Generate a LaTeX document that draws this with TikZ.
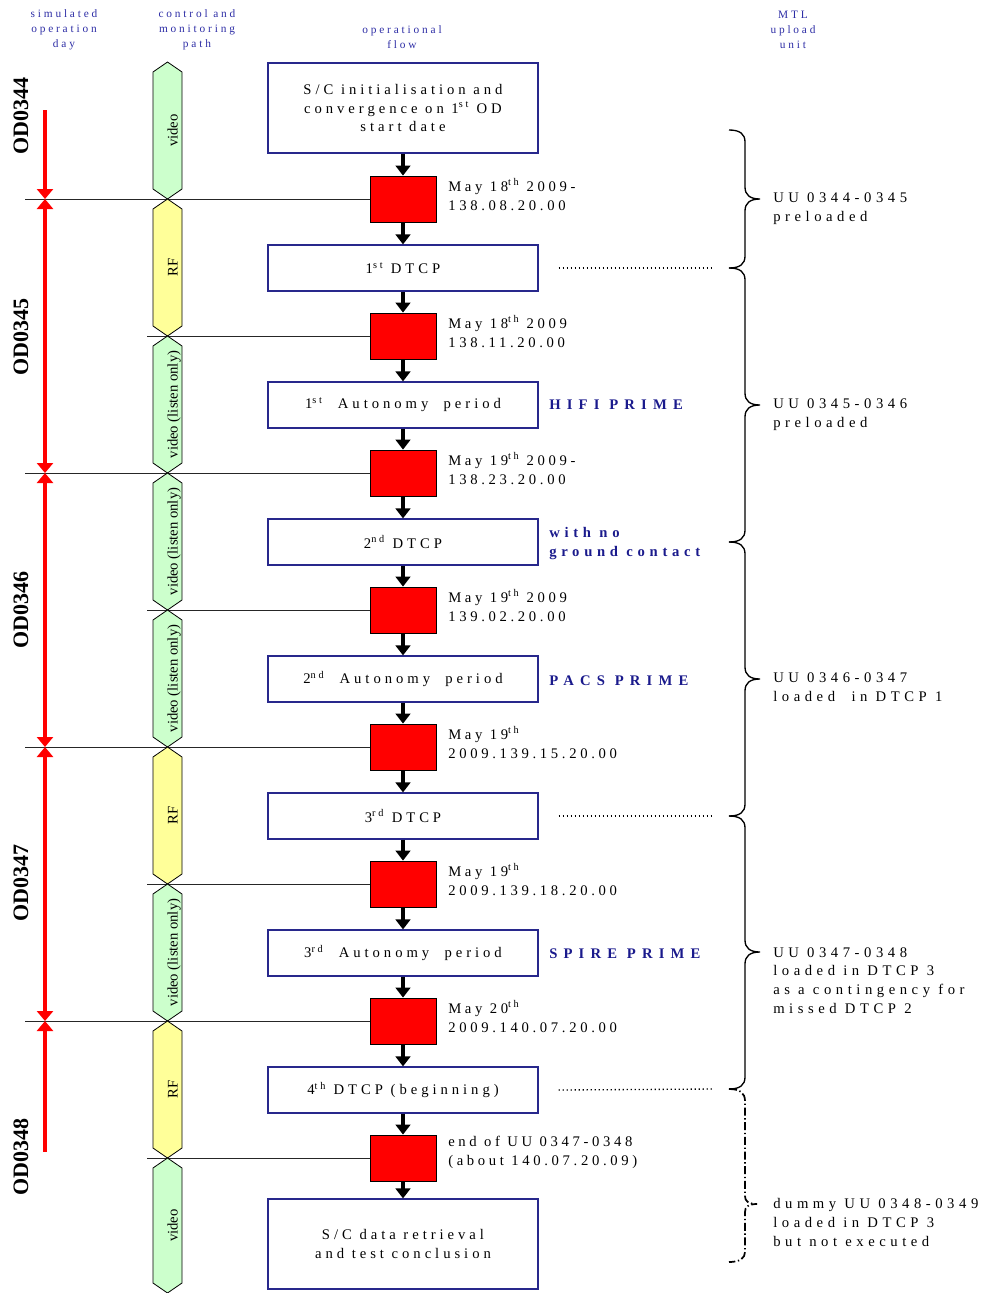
\documentclass[tikz,border=0pt]{standalone}
\usepackage{fontspec}
\setmainfont{Liberation Serif}
\newfontfamily\lsfont[LetterSpace=25]{Liberation Serif}
\newfontfamily\lsboxfont[LetterSpace=27]{Liberation Serif}
\newfontfamily\lsuufont[LetterSpace=31]{Liberation Serif}
\newfontfamily\lsbold[LetterSpace=32]{Liberation Serif}
\newfontfamily\lsboldcaps[LetterSpace=42]{Liberation Serif}
\usetikzlibrary{arrows.meta}
\definecolor{hdrblue}{RGB}{45,45,165}
\definecolor{lblblue}{RGB}{26,26,140}
\definecolor{boxblue}{RGB}{40,40,140}
\definecolor{hexgreen}{RGB}{204,255,204}
\definecolor{hexyellow}{RGB}{255,255,153}
\begin{document}
\begin{tikzpicture}[x=0.75pt,y=-0.75pt,
  hdr/.style={font=\lsfont\fontsize{8.5}{11.25}\selectfont, text=hdrblue, align=center, inner sep=0pt},
  flowbox/.style={draw=boxblue, line width=0.9pt, minimum width=202.5pt, minimum height=34.5pt, align=center, inner sep=0pt, font=\lsboxfont\fontsize{11}{14}\selectfont},
  tallbox/.style={flowbox, minimum height=67.5pt},
  redsq/.style={draw=black, fill=red, line width=0.6pt, minimum width=49.5pt, minimum height=34.5pt, inner sep=0pt},
  flowarrow/.style={-{Triangle[width=11pt,length=7.5pt]}, line width=2.8pt},
  dayarrow/.style={red, line width=2.6pt},
  redtip/.tip={Triangle[width=12pt,length=7.5pt]},
  datelbl/.style={anchor=west, align=left, inner sep=0pt, font=\lsfont\fontsize{11}{14.25}\selectfont},
  modelbl/.style={anchor=west, align=left, inner sep=0pt, text=lblblue, font=\lsbold\bfseries\fontsize{11}{14.25}\selectfont},
  modecaps/.style={modelbl, font=\lsboldcaps\bfseries\fontsize{11}{14.25}\selectfont},
  uulbl/.style={anchor=west, align=left, inner sep=0pt, font=\lsuufont\fontsize{11}{14}\selectfont},
  odlbl/.style={rotate=90, anchor=base, inner sep=0pt, font=\bfseries\fontsize{16.5}{18}\selectfont},
  hexlbl/.style={rotate=90, anchor=base, inner sep=0pt, font=\fontsize{11}{13}\selectfont},
  sepline/.style={line width=0.6pt, black!85},
  bracepath/.style={line width=1pt},
  dotline/.style={dotted, line width=1pt},
]
\useasboundingbox (0,0) rectangle (995,1293);

% headers
\node[hdr] (h1) at (64,30) {simulated\\operation\\day};
\node[hdr] (h2) at (197,30) {control and\\monitoring\\path};
\node[hdr] (h3) at (402,37.5) {operational\\flow};
\node[hdr] (h4) at (793,30) {MTL\\upload\\unit};

% day labels
\node[odlbl] (od1) at (28,116) {OD0344};
\node[odlbl] (od2) at (28,337) {OD0345};
\node[odlbl] (od3) at (28,610) {OD0346};
\node[odlbl] (od4) at (28,883) {OD0347};
\node[odlbl] (od5) at (28,1157) {OD0348};

% flow nodes
\node[tallbox] (b1) at (403,108) {S/C initialisation and\\convergence on 1\textsuperscript{st} OD\\start date};
\node[redsq] (s1) at (403,199) {};
\node[flowbox] (b2) at (403,268) {1\textsuperscript{st} DTCP};
\node[redsq] (s2) at (403,336) {};
\node[flowbox] (b3) at (403,405) {1\textsuperscript{st}\ \ Autonomy\ \ period};
\node[redsq] (s3) at (403,473) {};
\node[flowbox] (b4) at (403,542) {2\textsuperscript{nd} DTCP};
\node[redsq] (s4) at (403,610) {};
\node[flowbox] (b5) at (403,679) {2\textsuperscript{nd}\ \ Autonomy\ \ period};
\node[redsq] (s5) at (403,747) {};
\node[flowbox] (b6) at (403,816) {3\textsuperscript{rd} DTCP};
\node[redsq] (s6) at (403,884) {};
\node[flowbox] (b7) at (403,953) {3\textsuperscript{rd}\ \ Autonomy\ \ period};
\node[redsq] (s7) at (403,1021) {};
\node[flowbox] (b8) at (403,1090) {4\textsuperscript{th} DTCP (beginning)};
\node[redsq] (s8) at (403,1158) {};
\node[tallbox] (b9) at (403,1244) {S/C data retrieval\\and test conclusion};

\foreach \a/\b in {b1/s1,s1/b2,b2/s2,s2/b3,b3/s3,s3/b4,b4/s4,s4/b5,b5/s5,s5/b6,b6/s6,s6/b7,b7/s7,s7/b8,b8/s8,s8/b9}
  \draw[flowarrow] (\a.south) -- (\b.north);

% horizontal separator lines
\coordinate (l1) at (25,199);
\coordinate (l2) at (147,336);
\coordinate (l3) at (25,473);
\coordinate (l4) at (147,610);
\coordinate (l5) at (25,747);
\coordinate (l6) at (147,884);
\coordinate (l7) at (25,1021);
\coordinate (l8) at (147,1158);
\foreach \i in {1,...,8}
  \draw[sepline] (l\i) -- (s\i.west);

% hexagons
\foreach \yt/\yb/\col/\txt [count=\i] in {62/199/hexgreen/video, 199/336/hexyellow/RF, 336/473/hexgreen/video (listen only), 473/610/hexgreen/video (listen only), 610/747/hexgreen/video (listen only), 747/884/hexyellow/RF, 884/1021/hexgreen/video (listen only), 1021/1158/hexyellow/RF, 1158/1293/hexgreen/video}
{
  \draw[fill=\col, line width=0.6pt] (153,\yt+10) -- (167.5,\yt) -- (182,\yt+10) -- (182,\yb-10) -- (167.5,\yb) -- (153,\yb-10) -- cycle;
  \node[hexlbl] (hx\i) at (177.5,{(\yt+\yb)/2}) {\txt};
}

% red day arrows
\coordinate (d0) at (45,110);
\coordinate (d1) at (45,199);
\coordinate (d2) at (45,473);
\coordinate (d3) at (45,747);
\coordinate (d4) at (45,1021);
\coordinate (d5) at (45,1152);
\draw[dayarrow, -redtip] (d0) -- (d1);
\draw[dayarrow, redtip-redtip] (d1) -- (d2);
\draw[dayarrow, redtip-redtip] (d2) -- (d3);
\draw[dayarrow, redtip-redtip] (d3) -- (d4);
\draw[dayarrow, redtip-] (d4) -- (d5);

% date labels
\node[datelbl] (t1) at (448,194.5) {May\ 18\textsuperscript{th} 2009-\\138.08.20.00};
\node[datelbl] (t2) at (448,331.5) {May\ 18\textsuperscript{th} 2009\\138.11.20.00};
\node[datelbl] (t3) at (448,468.5) {May\ 19\textsuperscript{th} 2009-\\138.23.20.00};
\node[datelbl] (t4) at (448,605.5) {May\ 19\textsuperscript{th} 2009\\139.02.20.00};
\node[datelbl] (t5) at (448,742.5) {May\ 19\textsuperscript{th}\\2009.139.15.20.00};
\node[datelbl] (t6) at (448,879.5) {May\ 19\textsuperscript{th}\\2009.139.18.20.00};
\node[datelbl] (t7) at (448,1016.5) {May\ 20\textsuperscript{th}\\2009.140.07.20.00};
\node[datelbl] (t8) at (448,1152.5) {end of UU 0347-0348\\(about 140.07.20.09)};

% mode labels
\node[modecaps] (m1) at (549,405) {HIFI PRIME};
\node[modelbl] (m2) at (549,543.5) {with no\\ground contact};
\node[modecaps] (m3) at (549,681) {PACS PRIME};
\node[modecaps] (m4) at (549,954) {SPIRE PRIME};

% dotted lines to braces
\coordinate (e2) at (714,268);
\coordinate (e6) at (714,816);
\coordinate (e8) at (714,1089);
\draw[dotline] ([xshift=15pt]b2.east) -- (e2);
\draw[dotline] ([xshift=15pt]b6.east) -- (e6);
\draw[dotline] ([xshift=15pt]b8.east) -- (e8);

% braces
\foreach \yt/\ym/\yb in {130/199/268, 268/405/542, 542/679/816, 816/952/1089}
  \draw[bracepath] (729,\yt) .. controls (740,\yt) and (745,\yt+4) .. (745,\yt+12) -- (745,\ym-12) .. controls (745,\ym-4) and (750,\ym) .. (760,\ym) .. controls (750,\ym) and (745,\ym+4) .. (745,\ym+12) -- (745,\yb-12) .. controls (745,\yb-4) and (740,\yb) .. (729,\yb);
\draw[bracepath, line width=1.3pt, dash pattern=on 6pt off 2pt on 1pt off 2pt] (729,1089) .. controls (740,1089) and (745,1093) .. (745,1101) -- (745,1196) .. controls (745,1201) and (748,1204) .. (757,1204) .. controls (748,1204) and (745,1207) .. (745,1212) -- (745,1252) .. controls (745,1258) and (740,1262) .. (729,1262);

% upload unit labels
\node[uulbl] (u1) at (773,208.5) {UU 0344-0345\\preloaded};
\node[uulbl] (u2) at (773,414.5) {UU 0345-0346\\preloaded};
\node[uulbl] (u3) at (773,687.5) {UU 0346-0347\\loaded\ \ in DTCP 1};
\node[uulbl] (u4) at (773,980.5) {UU 0347-0348\\loaded in DTCP 3\\as a contingency for\\missed DTCP 2};
\node[uulbl] (u5) at (773,1222.5) {dummy UU 0348-0349\\loaded in DTCP 3\\but not executed};
\end{tikzpicture}
\end{document}
